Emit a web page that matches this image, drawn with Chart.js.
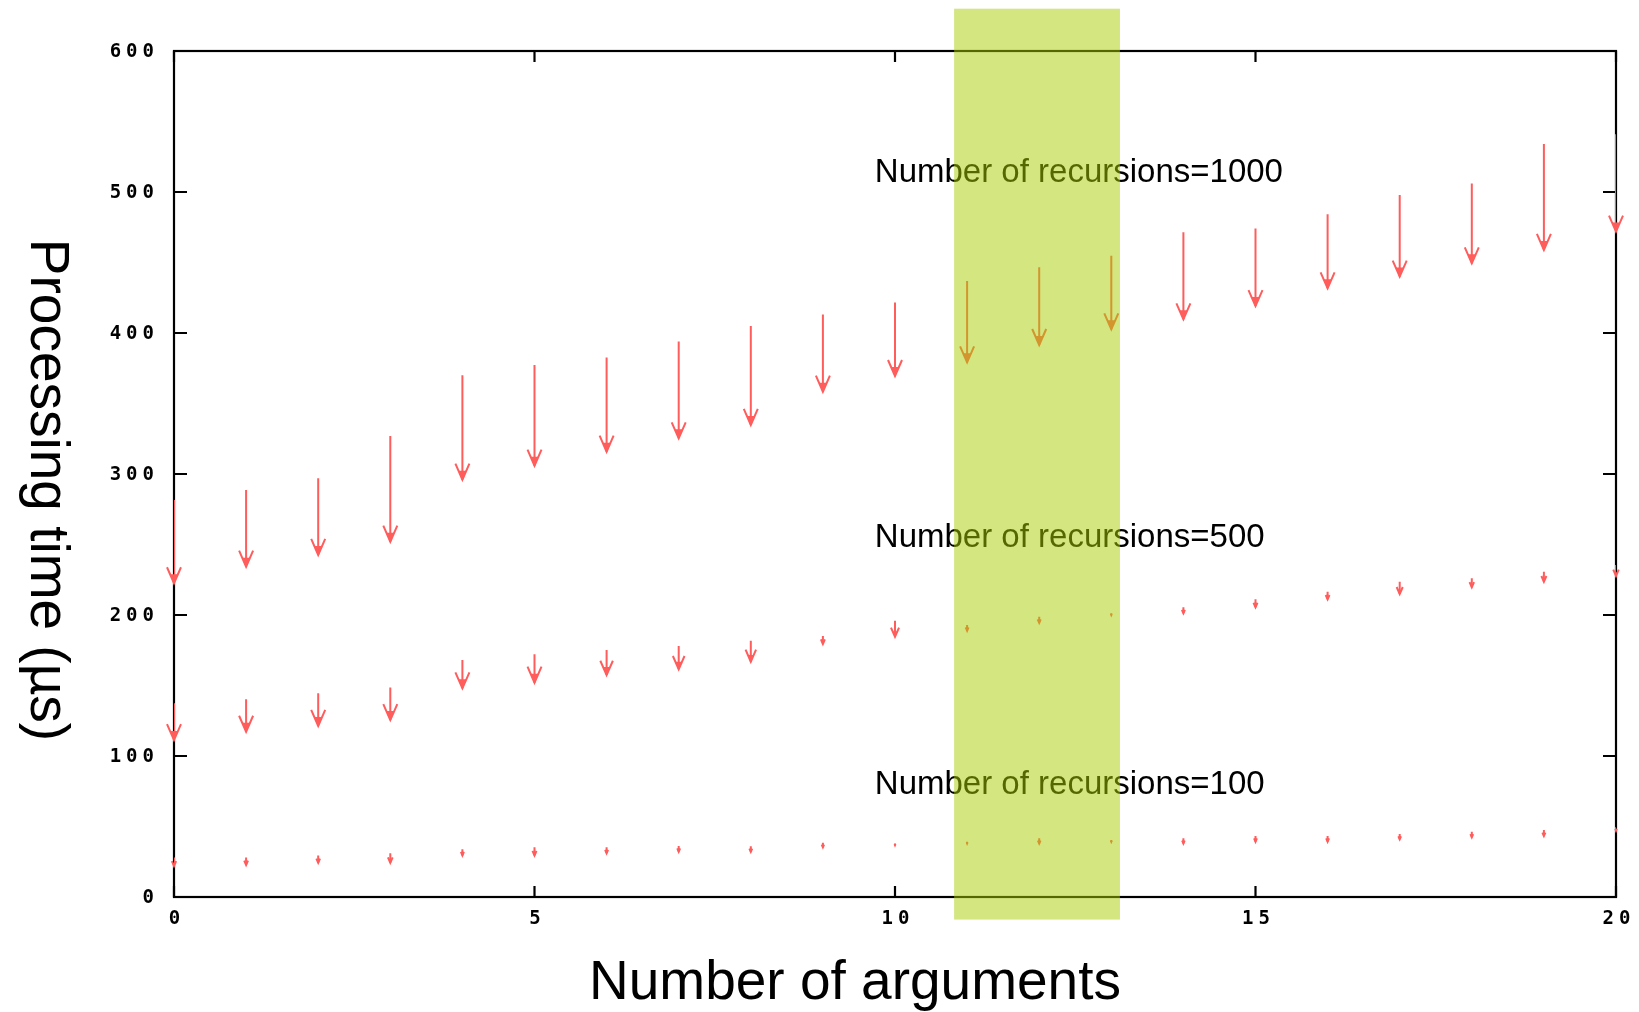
<!DOCTYPE html>
<html><head><meta charset="utf-8">
<script src="https://cdn.jsdelivr.net/npm/chart.js@4.4.1/dist/chart.umd.min.js"></script>
<style>html,body{margin:0;padding:0;background:#fff;overflow:hidden}</style>
</head><body>
<canvas id="c" width="1639" height="1012"></canvas>
<script>
// ---- data ----
const args = [0,1,2,3,4,5,6,7,8,9,10,11,12,13,14,15,16,17,18,19,20];
const rec1000Top = [281.6,288.7,297,327,370,377.3,382.7,393.9,405,413.2,421.7,436.9,446.6,454.8,471.4,474.2,484.2,497.9,506.1,534,540.9];
const rec1000Tip = [222.5,234.3,242.6,252,296,305.9,315.8,325.3,334.8,358.4,369.5,379.2,391.5,402.6,409.7,419.1,431.7,440,449.4,458.9,471.9];
const rec500Top = [137.4,140.2,144.5,148.5,168.1,172.1,175.2,178,181.8,185.1,196,192.9,198.8,201.2,205.5,211.1,216.5,223.6,226,230.7,235.5];
const rec500Tip = [111.3,117.2,121.3,125.5,148,152,157.4,161.5,166.9,179.4,184.6,188.9,194.5,200,201.2,205.5,211.1,214.9,219.6,223.6,227.7];
const rec100Top = [28.1,28.1,29.5,31,33.8,35.2,35.2,36.2,36,38.5,38,39.2,41.6,40.4,41.6,43.3,43.3,44.7,46.3,47.5,49.4];
const rec100Tip = [22,22.7,24.3,24.3,29.5,29.5,31,32.1,32,35.2,36.7,38,38,39.2,38,39.2,39.2,40.9,42.3,43.3,47];
const xTicks = [0,5,10,15,20];
const yTicks = [0,100,200,300,400,500,600];
const seriesLabels = ['Number of recursions=1000','Number of recursions=500','Number of recursions=100'];
const labelPos = [[9.72,513.8],[9.72,255],[9.72,79.4]];
const highlight = [10.82, 13.12, -16, 630];
const xTitle = 'Number of arguments';
const yTitle = 'Processing time (\u00b5s)';

const ARROW = '#ff5c5c';

function segs(top, tip){
  const d = [];
  args.forEach((x,i)=>{ d.push({x:x,y:top[i]}); d.push({x:x,y:tip[i]}); d.push({x:x,y:null}); });
  return d;
}
const allSeries = [[rec1000Top,rec1000Tip],[rec500Top,rec500Tip],[rec100Top,rec100Tip]];

const gnuplot = {
  id:'gnuplot',
  beforeDatasetsDraw(chart){
    const ctx = chart.ctx, a = chart.chartArea, xs = chart.scales.x, ys = chart.scales.y;
    ctx.save();
    ctx.strokeStyle = '#000'; ctx.lineWidth = 2.2;
    ctx.strokeRect(a.left, a.top, a.right-a.left, a.bottom-a.top);
    ctx.beginPath();
    yTicks.forEach(v=>{ const p = ys.getPixelForValue(v);
      ctx.moveTo(a.left,p); ctx.lineTo(a.left+13,p);
      ctx.moveTo(a.right,p); ctx.lineTo(a.right-13,p); });
    xTicks.forEach(v=>{ const p = xs.getPixelForValue(v);
      ctx.moveTo(p,a.bottom); ctx.lineTo(p,a.bottom-11);
      ctx.moveTo(p,a.top); ctx.lineTo(p,a.top+11); });
    ctx.stroke();
    ctx.fillStyle = '#000';
    ctx.font = 'bold 19px "DejaVu Sans Mono"';
    try { ctx.letterSpacing = '5px'; } catch(e){}
    ctx.textBaseline = 'middle';
    ctx.textAlign = 'right';
    yTicks.forEach(v=>{ ctx.fillText(String(v), a.left-15, ys.getPixelForValue(v)+1); });
    ctx.textAlign = 'center';
    xTicks.forEach(v=>{ ctx.fillText(String(v), xs.getPixelForValue(v)+3, a.bottom+22); });
    try { ctx.letterSpacing = '0px'; } catch(e){}
    ctx.font = '55px "Liberation Sans", Arial, sans-serif';
    ctx.textAlign = 'center'; ctx.textBaseline = 'alphabetic';
    ctx.fillText(xTitle, 855, 999);
    ctx.save();
    ctx.translate(46, 490); ctx.rotate(Math.PI/2);
    ctx.textBaseline = 'middle';
    ctx.fillText(yTitle, 0, 0);
    ctx.restore();
    ctx.restore();
  },
  afterDatasetsDraw(chart){
    const ctx = chart.ctx, xs = chart.scales.x, ys = chart.scales.y;
    ctx.save();
    ctx.strokeStyle = ARROW; ctx.fillStyle = ARROW; ctx.lineWidth = 2;
    allSeries.forEach(([top,tip])=>{
      args.forEach((x,i)=>{
        const px = xs.getPixelForValue(x);
        const pt = ys.getPixelForValue(top[i]);
        const pb = ys.getPixelForValue(tip[i]);
        const len = pb - pt;
        const s = Math.min(1, len/28);
        const hl = 16*s, hw = 7*s;
        ctx.beginPath();
        ctx.moveTo(px-hw, pb-hl); ctx.lineTo(px, pb); ctx.lineTo(px+hw, pb-hl);
        ctx.stroke();
        ctx.beginPath();
        ctx.moveTo(px-4*s, pb-9*s); ctx.lineTo(px+4*s, pb-9*s); ctx.lineTo(px, pb+1);
        ctx.closePath(); ctx.fill();
      });
    });
    ctx.fillStyle = '#000';
    ctx.font = '33px "Liberation Sans", Arial, sans-serif';
    ctx.textAlign = 'left'; ctx.textBaseline = 'middle';
    seriesLabels.forEach((t,i)=>{
      ctx.fillText(t, xs.getPixelForValue(labelPos[i][0]), ys.getPixelForValue(labelPos[i][1]));
    });
    const x0 = xs.getPixelForValue(highlight[0]), x1 = xs.getPixelForValue(highlight[1]);
    const y0 = ys.getPixelForValue(highlight[3]), y1 = ys.getPixelForValue(highlight[2]);
    ctx.fillStyle = 'rgba(168,205,0,0.5)';
    ctx.fillRect(x0, y0, x1-x0, y1-y0);
    ctx.restore();
  }
};

new Chart(document.getElementById('c'), {
  type:'scatter',
  data:{ datasets: allSeries.map((s,i)=>({
    label: seriesLabels[i], data: segs(s[0], s[1]), showLine:true, spanGaps:false,
    borderColor: ARROW, borderWidth: 2, pointRadius: 0, pointHoverRadius:0, fill:false
  }))},
  options:{
    responsive:false, animation:false, devicePixelRatio:1,
    layout:{ padding:{ left:174, right:23, top:51, bottom:115 } },
    plugins:{ legend:{display:false}, tooltip:{enabled:false} },
    scales:{
      x:{ type:'linear', min:0, max:20, display:false },
      y:{ type:'linear', min:0, max:600, display:false }
    }
  },
  plugins:[gnuplot]
});
</script>
</body></html>
